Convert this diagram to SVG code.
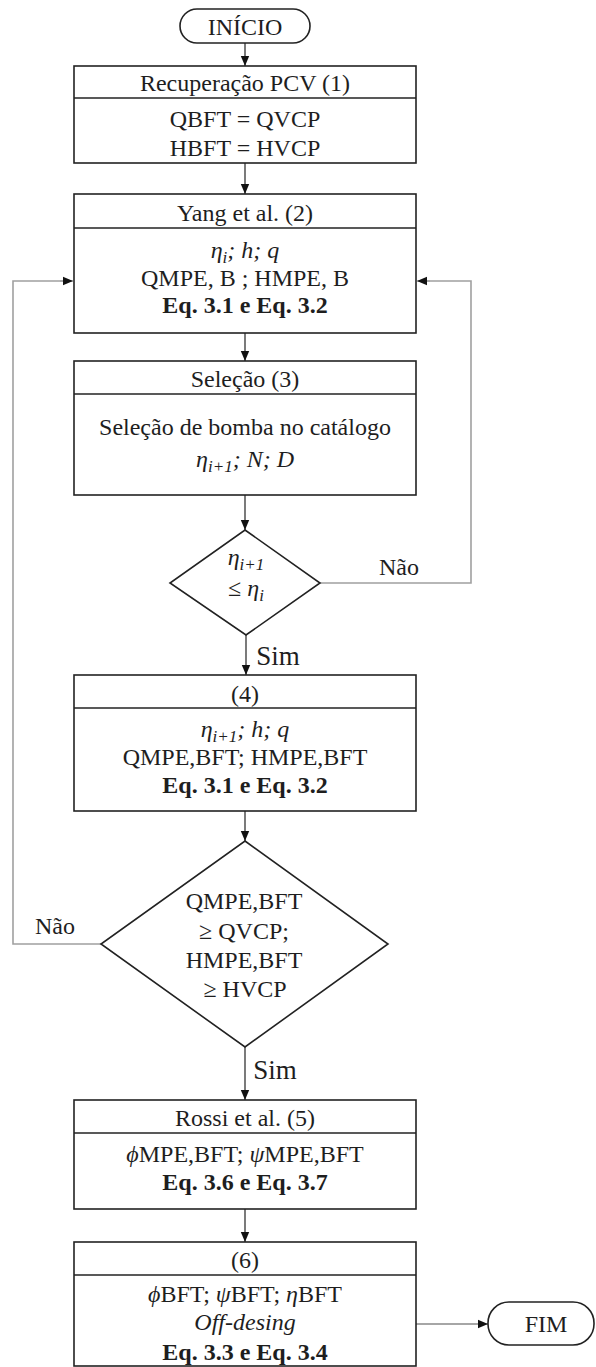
<svg xmlns="http://www.w3.org/2000/svg" width="596" height="1367" viewBox="0 0 596 1367">
<style>
.t{font-family:"Liberation Serif","Times New Roman",serif;font-size:24px;fill:#1e1e1e;text-anchor:middle}
.b{font-weight:bold}
.i{font-style:italic}
.box{fill:#fff;stroke:#222;stroke-width:1.6}
.div{stroke:#222;stroke-width:1.4}
.c{fill:none;stroke:#333;stroke-width:1.3}
.g{fill:none;stroke:#a0a0a0;stroke-width:1.6}
</style>
<defs>
<marker id="ah" markerUnits="userSpaceOnUse" markerWidth="10" markerHeight="10" viewBox="0 0 10 10" refX="10" refY="5" orient="auto">
<path d="M0,0.8 L10,5 L0,9.2 Z" fill="#111"/>
</marker>
</defs>
<rect width="596" height="1367" fill="#fff"/>

<g id="connectors">
<line class="c" x1="245" y1="43" x2="245" y2="66" marker-end="url(#ah)"/>
<line class="c" x1="245" y1="163" x2="245" y2="194" marker-end="url(#ah)"/>
<line class="c" x1="245" y1="333" x2="245" y2="361" marker-end="url(#ah)"/>
<line class="c" x1="245" y1="495" x2="245" y2="530" marker-end="url(#ah)"/>
<polyline class="g" points="320,583 471,583 471,281 418,281" />
<line class="c" x1="430" y1="281" x2="417" y2="281" marker-end="url(#ah)" style="stroke:#a0a0a0"/>
<line class="c" x1="246" y1="635" x2="246" y2="675" marker-end="url(#ah)"/>
<line class="c" x1="245" y1="811" x2="245" y2="841" marker-end="url(#ah)"/>
<polyline class="g" points="101,944 13,944 13,281 72,281"/>
<line class="c" x1="60" y1="281" x2="73" y2="281" marker-end="url(#ah)" style="stroke:#a0a0a0"/>
<line class="c" x1="245" y1="1047" x2="245" y2="1100" marker-end="url(#ah)"/>
<line class="c" x1="245" y1="1209" x2="245" y2="1242" marker-end="url(#ah)"/>
<line class="c" x1="416" y1="1324" x2="488" y2="1324" marker-end="url(#ah)" style="stroke:#888"/>
<text class="t" x="399" y="575">Não</text>
<text class="t" x="55" y="934">Não</text>
<text class="t" x="278" y="665" style="font-size:27px;text-anchor:middle">Sim</text>
<text class="t" x="275" y="1079" style="font-size:27px;text-anchor:middle">Sim</text>
</g>

<g id="inicio">
<rect class="box" x="180" y="9" width="130" height="34" rx="17"/>
<text class="t" x="245" y="35">INÍCIO</text>
</g>

<g id="n1">
<rect class="box" x="74" y="66" width="342" height="97"/>
<line class="div" x1="74" y1="98" x2="416" y2="98"/>
<text class="t" x="245" y="91">Recuperação PCV (1)</text>
<text class="t" x="245" y="127">QBFT = QVCP</text>
<text class="t" x="245" y="156">HBFT = HVCP</text>
</g>

<g id="n2">
<rect class="box" x="74" y="194" width="342" height="139"/>
<line class="div" x1="74" y1="228" x2="416" y2="228"/>
<text class="t" x="245" y="221">Yang et al. (2)</text>
<text class="t i" x="245" y="258">η<tspan font-size="17" dy="5">i</tspan><tspan dy="-5">; h; q</tspan></text>
<text class="t" x="245" y="286">QMPE, B ; HMPE, B</text>
<text class="t b" x="245" y="313">Eq. 3.1 e Eq. 3.2</text>
</g>

<g id="n3">
<rect class="box" x="74" y="361" width="342" height="134"/>
<line class="div" x1="74" y1="394" x2="416" y2="394"/>
<text class="t" x="245" y="387">Seleção (3)</text>
<text class="t" x="245" y="435">Seleção de bomba no catálogo</text>
<text class="t i" x="245" y="467">η<tspan font-size="17" dy="5">i+1</tspan><tspan dy="-5">; N; D</tspan></text>
</g>

<g id="d1">
<polygon class="box" points="245,530 320,583 246,635 170,583"/>
<text class="t i" x="246" y="565">η<tspan font-size="17" dy="5">i+1</tspan></text>
<text class="t" x="246" y="596">≤ <tspan class="i">η</tspan><tspan class="i" font-size="17" dy="5">i</tspan></text>
</g>

<g id="n4">
<rect class="box" x="74" y="675" width="342" height="136"/>
<line class="div" x1="74" y1="708" x2="416" y2="708"/>
<text class="t" x="245" y="702">(4)</text>
<text class="t i" x="245" y="737">η<tspan font-size="17" dy="5">i+1</tspan><tspan dy="-5">; h; q</tspan></text>
<text class="t" x="245" y="765">QMPE,BFT; HMPE,BFT</text>
<text class="t b" x="245" y="793">Eq. 3.1 e Eq. 3.2</text>
</g>

<g id="d2">
<polygon class="box" points="245,841 388,944 245,1047 101,944"/>
<text class="t" x="244" y="909">QMPE,BFT</text>
<text class="t" x="244" y="939">≥ QVCP;</text>
<text class="t" x="244" y="968">HMPE,BFT</text>
<text class="t" x="245" y="997">≥ HVCP</text>
</g>

<g id="n5">
<rect class="box" x="74" y="1100" width="342" height="109"/>
<line class="div" x1="74" y1="1133" x2="416" y2="1133"/>
<text class="t" x="245" y="1126">Rossi et al. (5)</text>
<text class="t" x="245" y="1162"><tspan class="i">ϕ</tspan>MPE,BFT; <tspan class="i">ψ</tspan>MPE,BFT</text>
<text class="t b" x="245" y="1190">Eq. 3.6 e Eq. 3.7</text>
</g>

<g id="n6">
<rect class="box" x="74" y="1242" width="342" height="124"/>
<line class="div" x1="74" y1="1275" x2="416" y2="1275"/>
<text class="t" x="245" y="1268">(6)</text>
<text class="t" x="245" y="1302"><tspan class="i">ϕ</tspan>BFT; <tspan class="i">ψ</tspan>BFT; <tspan class="i">η</tspan>BFT</text>
<text class="t i" x="245" y="1330">Off-desing</text>
<text class="t b" x="245" y="1360">Eq. 3.3 e Eq. 3.4</text>
</g>

<g id="fim">
<rect class="box" x="488" y="1302" width="106" height="43" rx="21"/>
<text class="t" x="546" y="1332">FIM</text>
</g>
</svg>
